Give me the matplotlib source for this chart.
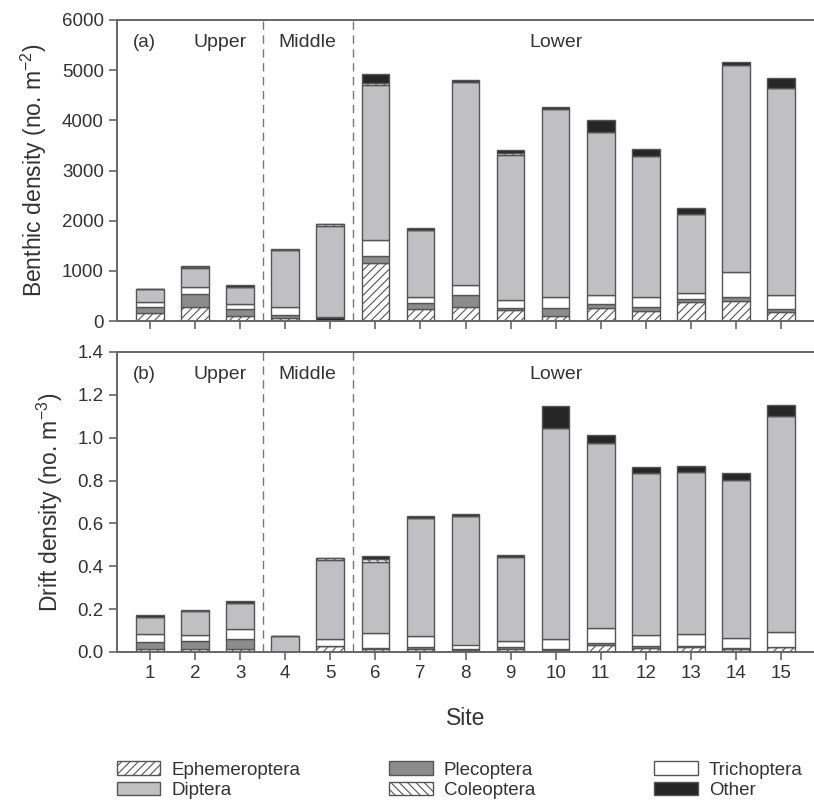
import numpy as np
import matplotlib
matplotlib.use('Agg')
import matplotlib.pyplot as plt
from matplotlib.patches import Patch

plt.rcParams['font.family'] = ['Liberation Sans', 'DejaVu Sans']
plt.rcParams['mathtext.default'] = 'regular'
plt.rcParams['hatch.linewidth'] = 0.8

sites = np.arange(1, 16)
site_labels = [str(s) for s in sites]

# benthic density (no. m-2)
benthic_ephem = [150, 287, 107, 67, 0, 1153, 233, 287, 220, 100, 253, 207, 387, 400, 187]
benthic_pleco = [120, 253, 126, 53, 0, 134, 134, 233, 33, 153, 87, 80, 53, 73, 53]
benthic_tricho = [100, 133, 107, 153, 0, 333, 120, 200, 167, 234, 180, 186, 113, 500, 280]
benthic_diptera = [260, 380, 347, 1134, 1817, 3080, 1333, 4053, 2887, 3733, 3247, 2814, 1580, 4134, 4120]
benthic_coleo = [0, 25, 0, 0, 40, 45, 0, 0, 50, 0, 0, 0, 0, 0, 0]
benthic_other = [15, 10, 33, 33, 7, 175, 33, 34, 50, 47, 240, 146, 120, 60, 213]
benthic_other_base = [0, 0, 0, 0, 70, 0, 0, 0, 0, 0, 0, 0, 0, 0, 0]

# drift density (no. m-3)
drift_ephem = [0.012, 0.012, 0.012, 0.0, 0.03, 0.015, 0.015, 0.01, 0.015, 0.01, 0.035, 0.02, 0.022, 0.012, 0.025]
drift_pleco = [0.035, 0.041, 0.049, 0.0, 0.0, 0.005, 0.01, 0.005, 0.007, 0.005, 0.006, 0.008, 0.006, 0.005, 0.0]
drift_tricho = [0.035, 0.028, 0.047, 0.0, 0.03, 0.07, 0.05, 0.02, 0.031, 0.045, 0.07, 0.052, 0.055, 0.05, 0.07]
drift_diptera = [0.08, 0.109, 0.122, 0.075, 0.37, 0.33, 0.55, 0.598, 0.391, 0.984, 0.864, 0.754, 0.758, 0.736, 1.005]
drift_coleo = [0.0, 0.0, 0.0, 0.0, 0.007, 0.012, 0.0, 0.0, 0.0, 0.0, 0.0, 0.0, 0.0, 0.0, 0.0]
drift_other = [0.01, 0.008, 0.01, 0.002, 0.004, 0.014, 0.01, 0.009, 0.011, 0.106, 0.038, 0.03, 0.028, 0.034, 0.055]

zones = ['Upper', 'Middle', 'Lower']
zone_x = [2.55, 4.5, 10.0]
zone_breaks = [3.5, 5.5]

edge = '#555555'
txt = '#333333'
styles = {
    'Ephemeroptera': dict(facecolor='white', hatch='////'),
    'Plecoptera': dict(facecolor='#8c8c8c'),
    'Trichoptera': dict(facecolor='white'),
    'Diptera': dict(facecolor='#c0c0c2'),
    'Coleoptera': dict(facecolor='white', hatch='\\\\\\\\'),
    'Other': dict(facecolor='#262626'),
}

fig = plt.figure(figsize=(8.14, 8.02), dpi=100)
ax1 = fig.add_axes([117 / 814, 1 - 321 / 802, 697 / 814, 301 / 802])
ax2 = fig.add_axes([117 / 814, 1 - 652 / 802, 697 / 814, 300 / 802])

w = 0.61


def stack(ax, layers, base=None):
    bottom = np.zeros(len(sites)) if base is None else np.array(base, dtype=float)
    for name, vals in layers:
        ax.bar(sites, vals, w, bottom=bottom, edgecolor=edge, linewidth=1.0,
               **styles[name])
        bottom = bottom + np.array(vals)


# panel a, with the small black base segment at site 5
ax1.bar(sites, benthic_other_base, w, edgecolor=edge, linewidth=1.0, **styles['Other'])
stack(ax1, [('Ephemeroptera', benthic_ephem), ('Plecoptera', benthic_pleco),
            ('Trichoptera', benthic_tricho), ('Diptera', benthic_diptera),
            ('Coleoptera', benthic_coleo), ('Other', benthic_other)],
      base=benthic_other_base)
stack(ax2, [('Ephemeroptera', drift_ephem), ('Plecoptera', drift_pleco),
            ('Trichoptera', drift_tricho), ('Diptera', drift_diptera),
            ('Coleoptera', drift_coleo), ('Other', drift_other)])

for ax, ymax, step, tag, ylab in [
        (ax1, 6000, 1000, '(a)', 'Benthic density (no. m$^{-2}$)'),
        (ax2, 1.4, 0.2, '(b)', 'Drift density (no. m$^{-3}$)')]:
    ax.set_xlim(0.27, 15.73)
    ax.set_ylim(0, ymax)
    ax.set_yticks(np.arange(0, ymax + step / 2, step))
    ax.set_xticks(sites)
    for xb in zone_breaks:
        ax.axvline(xb, color='#777777', lw=1.0, ls=(0, (6, 4)), zorder=0)
    ax.text(0.62, ymax * 0.925, tag, fontsize=13.5, color=txt, va='center')
    for z, zx in zip(zones, zone_x):
        ax.text(zx, ymax * 0.925, z, fontsize=14, color=txt, ha='center', va='center')
    ax.set_ylabel(ylab, fontsize=16.5, color=txt, labelpad=9)
    ax.spines['right'].set_visible(False)
    for s in ['left', 'top', 'bottom']:
        ax.spines[s].set_color('#666666')
        ax.spines[s].set_linewidth(1.4)
    ax.tick_params(direction='out', length=6, width=1.2, color='#666666',
                   labelsize=13.5, labelcolor=txt)

ax1.set_xticklabels([])
ax2.set_xticklabels(site_labels)
ax2.yaxis.set_major_formatter(matplotlib.ticker.FormatStrFormatter('%.1f'))
ax2.set_xlabel('Site', fontsize=16.5, color=txt, labelpad=18)

# legend in three columns
cols = [['Ephemeroptera', 'Diptera'], ['Plecoptera', 'Coleoptera'], ['Trichoptera', 'Other']]
col_x = [108, 380, 645]
for names, cx in zip(cols, col_x):
    handles = [Patch(edgecolor=edge, linewidth=1.0, label=n, **styles[n]) for n in names]
    fig.legend(handles=handles, loc='upper left', bbox_to_anchor=(cx / 814, 1 - 752 / 802),
               frameon=False, fontsize=13.5, handlelength=2.3, handleheight=0.75,
               handletextpad=0.6, labelspacing=0.15, borderpad=0, labelcolor=txt)

fig.savefig('out.png', dpi=100)
